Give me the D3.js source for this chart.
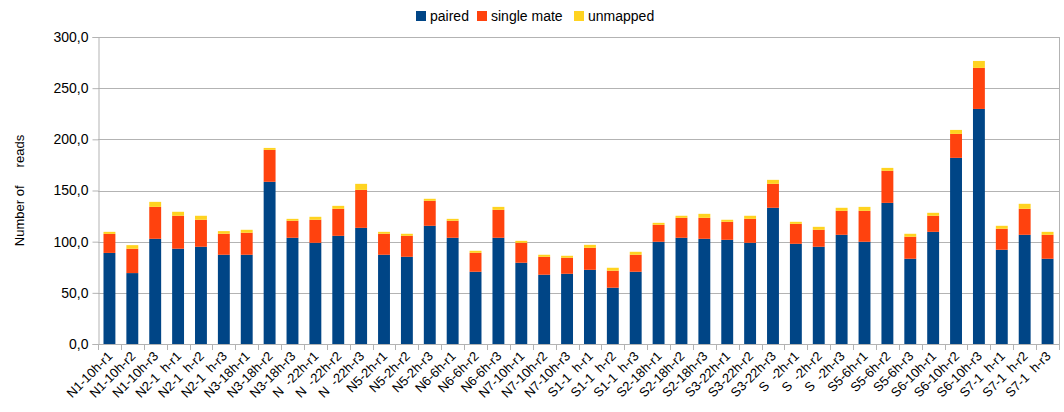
<!DOCTYPE html>
<html>
<head>
<meta charset="utf-8">
<script src="https://cdn.jsdelivr.net/npm/d3@7"></script>
<style>
  body { margin: 0; background: #fff; }
  text { font-family: "Liberation Sans", Arial, sans-serif; fill: #000; }
</style>
</head>
<body>
<script>
// samples on the x axis (digits missing in the original render kept as blanks)
var samples = [
  "N1-10h-r1", "N1-10h-r2", "N1-10h-r3",
  "N2-1  h-r1", "N2-1  h-r2", "N2-1  h-r3",
  "N3-18h-r1", "N3-18h-r2", "N3-18h-r3",
  "N  -22h-r1", "N  -22h-r2", "N  -22h-r3",
  "N5-2h-r1", "N5-2h-r2", "N5-2h-r3",
  "N6-6h-r1", "N6-6h-r2", "N6-6h-r3",
  "N7-10h-r1", "N7-10h-r2", "N7-10h-r3",
  "S1-1  h-r1", "S1-1  h-r2", "S1-1  h-r3",
  "S2-18h-r1", "S2-18h-r2", "S2-18h-r3",
  "S3-22h-r1", "S3-22h-r2", "S3-22h-r3",
  "S  -2h-r1", "S  -2h-r2", "S  -2h-r3",
  "S5-6h-r1", "S5-6h-r2", "S5-6h-r3",
  "S6-10h-r1", "S6-10h-r2", "S6-10h-r3",
  "S7-1  h-r1", "S7-1  h-r2", "S7-1  h-r3"
];

// series values
var paired = [
  89, 69.3, 102.8, 93.1, 95, 87.2, 87.2, 158.5, 103.8, 98.9, 105.7, 113.5,
  87.2, 85.2, 115.5, 103.8, 70.6, 103.8, 79.4, 67.7, 68.6, 72.5, 55, 70.6,
  99.9, 103.8, 102.8, 101.8, 98.9, 133.1, 97.9, 95, 106.7, 99.9, 137.9, 83.3,
  109.6, 181.9, 229.7, 92.1, 106.7, 83.3
];
var singleMate = [
  18.6, 23.8, 31.2, 32.2, 26.4, 20.5, 21.5, 31.2, 16.6, 22.5, 26.4, 37.1,
  20.5, 20.5, 24.4, 16.6, 18.5, 27.3, 19.5, 17.5, 15.7, 21.5, 16.6, 16.6,
  16.6, 19.5, 20.5, 17.6, 23.4, 23.4, 19.5, 16.6, 23.4, 30.2, 31.3, 21.5,
  15.7, 23.4, 40.1, 20.5, 25.4, 23.4
];
var unmapped = [
  2, 3.5, 4.9, 3.9, 3.9, 2.6, 2.9, 1.9, 1.9, 2.9, 2.9, 5.9,
  1.9, 2, 2, 1.9, 2, 2.9, 1.9, 2, 1.9, 2.9, 2.9, 2.9,
  1.9, 2, 3.9, 2, 3, 3.9, 2, 2.9, 3, 3.9, 2.9, 2.9,
  2.9, 3.9, 6.8, 2.9, 4.9, 2.9
];

var seriesNames = ["paired", "single mate", "unmapped"];
var seriesColors = ["#004586", "#ff420e", "#ffd320"];
var yTicks = [0, 50, 100, 150, 200, 250, 300];

var W = 1064, H = 412;
var margin = {top: 37, right: 5, bottom: 68, left: 98};
var width = W - margin.left - margin.right,
    height = H - margin.top - margin.bottom;

var svg = d3.select("body").append("svg")
  .attr("width", W)
  .attr("height", H);

var g = svg.append("g")
  .attr("transform", "translate(" + margin.left + "," + margin.top + ")");

var data = samples.map(function (s, i) {
  return {name: s, "paired": paired[i], "single mate": singleMate[i], "unmapped": unmapped[i]};
});

var xScale = d3.scaleBand()
  .domain(samples)
  .range([0, width])
  .paddingInner(0.48)
  .paddingOuter(0.24);

var yScale = d3.scaleLinear()
  .domain([0, 300])
  .range([height, 0]);

var color = d3.scaleOrdinal().domain(seriesNames).range(seriesColors);

// gridlines
g.append("g")
  .selectAll("line")
  .data(yTicks)
  .enter().append("line")
  .attr("x1", 0).attr("x2", width)
  .attr("y1", d => Math.round(yScale(d)) + 0.5)
  .attr("y2", d => Math.round(yScale(d)) + 0.5)
  .attr("stroke", "#b3b3b3");

// right border
g.append("line")
  .attr("x1", width + 0.5).attr("x2", width + 0.5)
  .attr("y1", yScale(300)).attr("y2", height)
  .attr("stroke", "#b3b3b3");

// stacked bars
var stack = d3.stack().keys(seriesNames);
var layers = g.selectAll(".layer")
  .data(stack(data))
  .enter().append("g")
  .attr("class", "layer")
  .attr("fill", d => color(d.key));

layers.selectAll("rect")
  .data(d => d)
  .enter().append("rect")
  .attr("x", d => xScale(d.data.name))
  .attr("width", xScale.bandwidth())
  .attr("y", d => yScale(d[1]))
  .attr("height", d => yScale(d[0]) - yScale(d[1]));

// y axis
var yAxis = d3.axisLeft(yScale)
  .tickValues(yTicks)
  .tickSize(6)
  .tickPadding(4)
  .tickFormat(d => d3.format(".1f")(d).replace(".", ","));

var yA = g.append("g")
  .attr("transform", "translate(0.5,0)")
  .call(yAxis);
yA.select(".domain").attr("stroke", "#b3b3b3");
yA.selectAll(".tick line").attr("stroke", "#b3b3b3");
yA.selectAll(".tick text")
  .style("font-size", "14px")
  .style("font-family", "Liberation Sans, Arial, sans-serif")
  .attr("fill", "#000");

// x axis line and category ticks
var step = xScale.step();
g.append("line")
  .attr("x1", 0).attr("x2", width)
  .attr("y1", height + 0.5).attr("y2", height + 0.5)
  .attr("stroke", "#b3b3b3");

g.append("g")
  .selectAll("line")
  .data(d3.range(samples.length + 1))
  .enter().append("line")
  .attr("x1", i => Math.round(i * step) + 0.5)
  .attr("x2", i => Math.round(i * step) + 0.5)
  .attr("y1", height).attr("y2", height + 6)
  .attr("stroke", "#b3b3b3");

// x labels rotated
g.append("g")
  .selectAll("text")
  .data(samples)
  .enter().append("text")
  .attr("transform", d => "translate(" + (xScale(d) + xScale.bandwidth() / 2 + 4) + "," + (height + 13) + ") rotate(-45)")
  .attr("text-anchor", "end")
  .style("font-size", "13px")
  .style("white-space", "pre")
  .text(d => d);

// y axis title
svg.append("text")
  .attr("transform", "translate(24," + (margin.top + height / 2) + ") rotate(-90)")
  .attr("text-anchor", "middle")
  .style("font-size", "13px")
  .style("white-space", "pre")
  .text("Number of     reads");

// legend
var legendX = [416, 477, 574];
var legend = svg.append("g")
  .selectAll("g")
  .data(seriesNames)
  .enter().append("g")
  .attr("transform", (d, i) => "translate(" + legendX[i] + ",11)");

legend.append("rect")
  .attr("width", 10)
  .attr("height", 10)
  .attr("fill", d => color(d));

legend.append("text")
  .attr("x", 14)
  .attr("y", 10)
  .style("font-size", "14px")
  .text(d => d);
</script>
</body>
</html>
